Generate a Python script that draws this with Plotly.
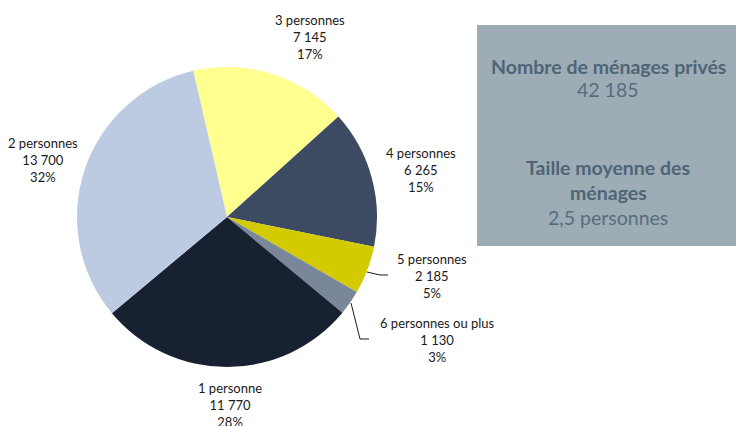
import plotly.graph_objects as go

categories = ["3 personnes", "4 personnes", "5 personnes", "6 personnes ou plus", "1 personne", "2 personnes"]
values = [7145, 6265, 2185, 1130, 11770, 13700]
colors = ["#ffff8f", "#3d4b62", "#d3cb00", "#7a879b", "#182132", "#bccbe2"]

total_households = "42 185"
avg_size = "2,5 personnes"

W, H = 736, 426
def px(x): return x / W
def py(y): return 1 - y / H

# label centre positions (window pixels) per category
label_pos = {
    "3 personnes": (310, 37),
    "4 personnes": (421, 170),
    "5 personnes": (432, 276),
    "6 personnes ou plus": (437, 340),
    "1 personne": (230, 405),
    "2 personnes": (43, 160),
}

total = sum(values)
fmt = lambda v: f"{v:,}".replace(",", " ")

fig = go.Figure(go.Pie(
    labels=categories, values=values, sort=False, direction="clockwise",
    rotation=-13, textinfo="none", hoverinfo="label+value+percent",
    marker=dict(colors=colors, line=dict(width=0)),
    domain=dict(x=[px(77), px(377)], y=[py(367), py(67)]),
    showlegend=False,
))

annotations = []
for c, v in zip(categories, values):
    x, y = label_pos[c]
    annotations.append(dict(
        x=px(x), y=py(y), xref="paper", yref="paper", showarrow=False,
        text=f"{c}<br>{fmt(v)}<br>{round(v / total * 100)}%",
        font=dict(family="Lato", size=13, color="#1a1a1a"), align="center",
        xanchor="center", yanchor="middle",
    ))

box_title_font = dict(family="Lato", size=19.5, color="#4e6576")
box_val_font = dict(family="Lato", size=19.5, color="#566e80")
box_texts = [
    (66, "<b>Nombre de ménages privés</b>", box_title_font),
    (90, total_households, box_val_font),
    (168, "<b>Taille moyenne des</b>", box_title_font),
    (192, "<b>ménages</b>", box_title_font),
    (217, avg_size, box_val_font),
]
for y, t, f in box_texts:
    annotations.append(dict(x=px(608), y=py(y), text=t, font=f, xref="paper", yref="paper",
                            showarrow=False, xanchor="center", yanchor="middle"))

shapes = [
    dict(type="rect", xref="paper", yref="paper", x0=px(477), x1=px(736), y0=py(246), y1=py(25),
         fillcolor="#9eacb6", line=dict(width=0), layer="below"),
    dict(type="path", xref="paper", yref="paper",
         path=f"M {px(367)} {py(272)} L {px(380)} {py(275)} L {px(388)} {py(275)}",
         line=dict(color="#1a1a1a", width=1)),
    dict(type="path", xref="paper", yref="paper",
         path=f"M {px(351)} {py(303)} L {px(360)} {py(339)} L {px(369)} {py(339)}",
         line=dict(color="#1a1a1a", width=1)),
]

fig.update_layout(
    width=W, height=H, margin=dict(l=0, r=0, t=0, b=0),
    paper_bgcolor="white", plot_bgcolor="white",
    annotations=annotations, shapes=shapes,
)
fig.write_html("out.html", config={"displayModeBar": False},
               post_script="document.body.style.margin='0';document.body.style.overflow='hidden';")
